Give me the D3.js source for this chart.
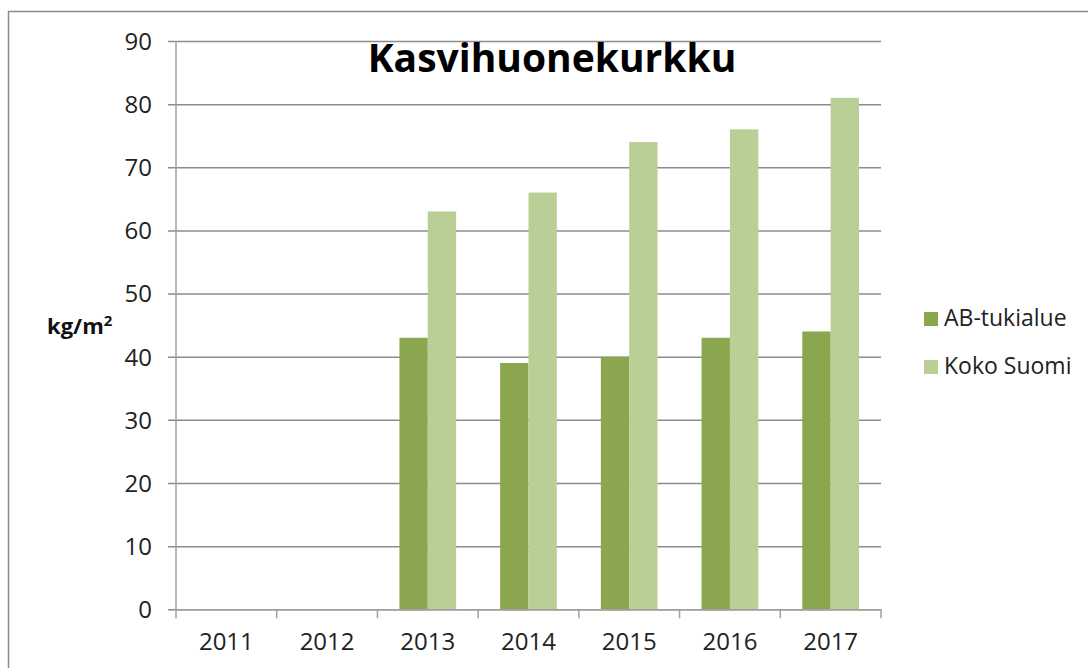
<!DOCTYPE html>
<html>
<head>
<meta charset="utf-8">
<script src="https://cdn.jsdelivr.net/npm/d3@7"></script>
<style>
    body { margin: 0; background: #fff; }
    svg text { font-family: "Open Sans", "DejaVu Sans", sans-serif; fill: #222; }
</style>
</head>
<body>
<div id="Chart"></div>
<script>
// Chart data
const years = ["2011", "2012", "2013", "2014", "2015", "2016", "2017"];
const abTukialue = [null, null, 43, 39, 40, 43, 44];
const kokoSuomi = [null, null, 63, 66, 74, 76, 81];
const seriesNames = ["AB-tukialue", "Koko Suomi"];
const yTicks = [0, 10, 20, 30, 40, 50, 60, 70, 80, 90];

var drawChart = function(slide = "#Chart") {
    var W = 1088, H = 668;
    var margin = {top: 41, right: 207, bottom: 58.7, left: 176},
        width = W - margin.left - margin.right,
        height = H - margin.top - margin.bottom;

    let root = d3.select(slide)
        .append("svg")
        .attr("width", W)
        .attr("height", H);

    // outer chart border (runs off the right and bottom)
    root.append("rect")
        .attr("x", 8.5)
        .attr("y", 11.5)
        .attr("width", 1200)
        .attr("height", 800)
        .style("fill", "none")
        .style("stroke", "#8a8a8a")
        .style("stroke-width", 1.5);

    let svg = root.append("g")
        .attr("transform", "translate(" + margin.left + "," + margin.top + ")");

    let data = years.map((y, i) => ({year: y, values: [abTukialue[i], kokoSuomi[i]]}));

    // scales
    var x = d3.scaleBand()
        .domain(years)
        .range([0, width]);

    var xs = d3.scaleBand()
        .domain(seriesNames)
        .range([22, x.bandwidth() - 22]);

    var y = d3.scaleLinear()
        .domain([0, 90])
        .range([height, 0]);

    var colour = d3.scaleOrdinal()
        .domain(seriesNames)
        .range(["#8aa64f", "#b9cf96"]);

    // gridlines + y axis
    svg.append("g")
        .attr("class", "yaxis")
        .call(d3.axisLeft(y).tickValues(yTicks).tickSize(-width).tickPadding(24).tickSizeOuter(0))
        .call(g => g.select(".domain").remove())
        .call(g => g.selectAll(".tick line")
            .attr("x1", -8)
            .style("stroke", "#8c8c8c")
            .style("stroke-width", 1.5))
        .call(g => g.selectAll(".tick text")
            .style("font-size", "24px")
            .attr("dy", "0.35em"));

    // bars
    svg.append("g")
        .selectAll("g")
        .data(data)
        .enter()
        .append("g")
        .attr("transform", (d) => "translate(" + x(d.year) + ",0)")
        .selectAll("rect")
        .data((d) => d.values.map((v, i) => ({name: seriesNames[i], value: v})).filter((v) => v.value != null))
        .enter()
        .append("rect")
        .attr("x", (d) => xs(d.name))
        .attr("y", (d) => y(d.value))
        .attr("width", xs.bandwidth())
        .attr("height", (d) => height - y(d.value))
        .style("fill", (d) => colour(d.name));

    // vertical axis line
    svg.append("line")
        .attr("x1", 0).attr("x2", 0)
        .attr("y1", 0).attr("y2", height)
        .style("stroke", "#a0a0a0")
        .style("stroke-width", 1.5);

    // x axis
    svg.append("g")
        .attr("transform", "translate(0," + height + ")")
        .call(d3.axisBottom(x).tickSize(0).tickPadding(24))
        .call(g => g.select(".domain")
            .style("stroke", "#a0a0a0")
            .style("stroke-width", 1.5))
        .call(g => g.selectAll(".tick text")
            .style("font-size", "24px"));

    // category tick marks between bands
    svg.append("g")
        .selectAll("line")
        .data(years.concat([null]))
        .enter()
        .append("line")
        .attr("x1", (d, i) => i * x.step())
        .attr("x2", (d, i) => i * x.step())
        .attr("y1", height)
        .attr("y2", height + 9)
        .style("stroke", "#a0a0a0")
        .style("stroke-width", 1.5);

    // title
    root.append("text")
        .attr("x", 552)
        .attr("y", 72)
        .attr("text-anchor", "middle")
        .style("font-size", "39px")
        .style("font-weight", "bold")
        .style("fill", "#000")
        .text("Kasvihuonekurkku");

    // y axis label
    let yl = root.append("text")
        .attr("x", 47)
        .attr("y", 334)
        .style("font-size", "22px")
        .style("font-weight", "bold")
        .style("fill", "#111");
    yl.append("tspan").text("kg/m");
    yl.append("tspan").attr("dy", -8).style("font-size", "15px").text("2");

    // legend
    let legend = root.append("g")
        .selectAll("g")
        .data(seriesNames)
        .enter()
        .append("g")
        .attr("transform", (d, i) => "translate(924," + (312 + i * 48) + ")");

    legend.append("rect")
        .attr("width", 14)
        .attr("height", 14)
        .style("fill", (d) => colour(d));

    legend.append("text")
        .attr("x", 20)
        .attr("y", 14)
        .style("font-size", "23px")
        .text((d) => d);
}

drawChart();
</script>
</body>
</html>
